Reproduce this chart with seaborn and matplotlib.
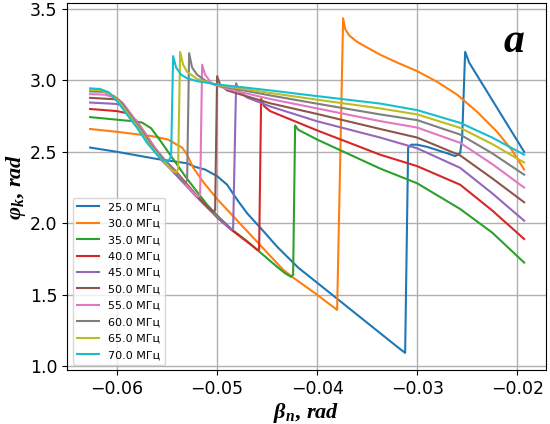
import pandas as pd
import seaborn as sns
import matplotlib
matplotlib.use('Agg')
import matplotlib.pyplot as plt

# frequencies and colours (matplotlib tab10 order)
freqs = [25.0, 30.0, 35.0, 40.0, 45.0, 50.0, 55.0, 60.0, 65.0, 70.0]
colors = sns.color_palette('tab10', 10)

# curves: beta_n (x) and phi_k (y)
x25 = [-0.0627, -0.0600, -0.0560, -0.0530, -0.0522, -0.0512, -0.0500, -0.0490, -0.0480, -0.0470,
       -0.0455, -0.0440, -0.0419, -0.0400, -0.0350, -0.0325, -0.0316, -0.0312, -0.0309, -0.0306,
       -0.0300, -0.0290, -0.0270, -0.0262, -0.0257, -0.0255, -0.0252, -0.0248, -0.0193]
y25 = [2.530, 2.500, 2.450, 2.420, 2.395, 2.376, 2.330, 2.270, 2.165, 2.070,
       1.955, 1.836, 1.690, 1.584, 1.304, 1.164, 1.114, 1.093, 2.530, 2.550,
       2.550, 2.535, 2.490, 2.470, 2.490, 2.600, 3.200, 3.125, 2.500]

x30 = [-0.0627, -0.0600, -0.0565, -0.0549, -0.0544, -0.0535, -0.0530, -0.0524, -0.0514, -0.0500,
       -0.0434, -0.0424, -0.0400, -0.0385, -0.0380, -0.0374, -0.0372, -0.0368, -0.0360, -0.0350,
       -0.0337, -0.0320, -0.0300, -0.0280, -0.0260, -0.0240, -0.0220, -0.0205, -0.0193]
y30 = [2.660, 2.640, 2.610, 2.586, 2.565, 2.530, 2.480, 2.390, 2.290, 2.170,
       1.675, 1.620, 1.500, 1.420, 1.394, 3.435, 3.360, 3.315, 3.270, 3.230,
       3.180, 3.125, 3.065, 2.990, 2.900, 2.780, 2.640, 2.510, 2.376]

x35 = [-0.0627, -0.0600, -0.0585, -0.0575, -0.0566, -0.0558, -0.0550, -0.0542, -0.0531, -0.0520,
       -0.0510, -0.0500, -0.0485, -0.0470, -0.0460, -0.0450, -0.0440, -0.0432, -0.0426, -0.0424,
       -0.0422, -0.0419, -0.0400, -0.0337, -0.0300, -0.0257, -0.0225, -0.0193]
y35 = [2.743, 2.725, 2.715, 2.705, 2.665, 2.590, 2.510, 2.430, 2.320, 2.220,
       2.130, 2.055, 1.955, 1.875, 1.815, 1.755, 1.695, 1.650, 1.625, 1.640,
       2.685, 2.655, 2.586, 2.383, 2.280, 2.100, 1.935, 1.725]

x40 = [-0.0627, -0.0600, -0.0590, -0.0581, -0.0572, -0.0562, -0.0552, -0.0542, -0.0531, -0.0520,
       -0.0500, -0.0485, -0.0470, -0.0459, -0.0458, -0.0456, -0.0453, -0.0447, -0.0400, -0.0337,
       -0.0300, -0.0257, -0.0225, -0.0193]
y40 = [2.800, 2.785, 2.770, 2.720, 2.630, 2.525, 2.440, 2.370, 2.280, 2.190,
       2.040, 1.950, 1.870, 1.810, 1.815, 2.870, 2.820, 2.785, 2.650, 2.480,
       2.400, 2.270, 2.090, 1.890]

x45 = [-0.0627, -0.0600, -0.0596, -0.0586, -0.0576, -0.0566, -0.0556, -0.0546, -0.0534, -0.0522,
       -0.0510, -0.0500, -0.0486, -0.0484, -0.0481, -0.0478, -0.0470, -0.0447, -0.0400, -0.0337,
       -0.0300, -0.0257, -0.0225, -0.0193]
y45 = [2.845, 2.835, 2.825, 2.735, 2.640, 2.535, 2.445, 2.375, 2.285, 2.195,
       2.110, 2.045, 1.955, 1.960, 2.980, 2.920, 2.880, 2.818, 2.714, 2.600,
       2.525, 2.388, 2.210, 2.018]

x50 = [-0.0627, -0.0602, -0.0595, -0.0585, -0.0575, -0.0565, -0.0555, -0.0545, -0.0533, -0.0522,
       -0.0512, -0.0504, -0.0502, -0.0500, -0.0497, -0.0490, -0.0447, -0.0400, -0.0337, -0.0300,
       -0.0257, -0.0225, -0.0193]
y50 = [2.878, 2.868, 2.830, 2.740, 2.645, 2.540, 2.450, 2.380, 2.290, 2.205,
       2.130, 2.080, 2.090, 3.030, 2.970, 2.930, 2.840, 2.765, 2.660, 2.600,
       2.475, 2.315, 2.147]

x55 = [-0.0627, -0.0612, -0.0600, -0.0594, -0.0584, -0.0574, -0.0564, -0.0554, -0.0545, -0.0533,
       -0.0522, -0.0519, -0.0517, -0.0515, -0.0512, -0.0505, -0.0490, -0.0447, -0.0400, -0.0337,
       -0.0300, -0.0257, -0.0225, -0.0193]
y55 = [2.904, 2.900, 2.875, 2.840, 2.745, 2.650, 2.545, 2.455, 2.390, 2.285,
       2.200, 2.185, 2.200, 3.110, 3.040, 2.975, 2.940, 2.870, 2.804, 2.715,
       2.670, 2.563, 2.415, 2.250]

x60 = [-0.0627, -0.0613, -0.0603, -0.0596, -0.0586, -0.0576, -0.0566, -0.0556, -0.0545, -0.0537,
       -0.0532, -0.0530, -0.0528, -0.0525, -0.0520, -0.0510, -0.0500, -0.0447, -0.0400, -0.0337,
       -0.0300, -0.0257, -0.0225, -0.0193]
y60 = [2.923, 2.920, 2.890, 2.845, 2.750, 2.655, 2.550, 2.465, 2.385, 2.315,
       2.280, 2.300, 3.190, 3.090, 3.040, 2.990, 2.965, 2.895, 2.837, 2.762,
       2.722, 2.621, 2.490, 2.340]

x65 = [-0.0627, -0.0615, -0.0605, -0.0598, -0.0588, -0.0578, -0.0568, -0.0558, -0.0549, -0.0545,
       -0.0541, -0.0539, -0.0537, -0.0534, -0.0530, -0.0520, -0.0500, -0.0447, -0.0400, -0.0337,
       -0.0300, -0.0257, -0.0225, -0.0193]
y65 = [2.935, 2.930, 2.895, 2.850, 2.755, 2.660, 2.555, 2.470, 2.400, 2.370,
       2.355, 2.380, 3.200, 3.110, 3.060, 3.010, 2.968, 2.912, 2.865, 2.804,
       2.762, 2.668, 2.555, 2.425]

x70 = [-0.0627, -0.0617, -0.0608, -0.0600, -0.0590, -0.0580, -0.0570, -0.0560, -0.0554, -0.0549,
       -0.0546, -0.0544, -0.0541, -0.0536, -0.0530, -0.0520, -0.0500, -0.0447, -0.0400, -0.0337,
       -0.0300, -0.0257, -0.0225, -0.0193]
y70 = [2.944, 2.940, 2.915, 2.855, 2.760, 2.668, 2.563, 2.480, 2.440, 2.430,
       2.470, 3.170, 3.090, 3.040, 3.015, 2.995, 2.972, 2.930, 2.890, 2.838,
       2.792, 2.703, 2.600, 2.480]

curves = [(x25, y25), (x30, y30), (x35, y35), (x40, y40), (x45, y45),
          (x50, y50), (x55, y55), (x60, y60), (x65, y65), (x70, y70)]

# fonts for the math labels (bold italic serif)
plt.rcParams['mathtext.fontset'] = 'custom'
plt.rcParams['mathtext.it'] = 'Liberation Serif:bold:italic'
plt.rcParams['mathtext.rm'] = 'Liberation Serif:bold'
plt.rcParams['mathtext.bf'] = 'Liberation Serif:bold'

fig, ax = plt.subplots(figsize=(5.5, 4.24), dpi=100)
fig.subplots_adjust(left=0.122, right=0.993, bottom=0.127, top=0.993)

for f, (xs, ys), c in zip(freqs, curves, colors):
    sns.lineplot(x=xs, y=ys, sort=False, estimator=None, color=c, linewidth=1.5,
                 label=f'{f:.1f} МГц', ax=ax)

ax.set_xlim(-0.065, -0.0171)
ax.set_ylim(0.972, 3.542)
ax.set_xticks([-0.06, -0.05, -0.04, -0.03, -0.02])
ax.set_yticks([1.0, 1.5, 2.0, 2.5, 3.0, 3.5])
ax.tick_params(labelsize=12.5)
ax.grid(True, color='#b0b0b0', linewidth=1.0)

ax.set_xlabel(r'$\beta_n,\,rad$', fontsize=16, labelpad=2)
ax.set_ylabel(r'$\varphi_k,\,rad$', fontsize=16, labelpad=1)

ax.text(0.933, 0.866, 'a', transform=ax.transAxes, ha='center', va='baseline',
        fontsize=30, fontweight='bold', fontstyle='italic', family='Liberation Serif')

ax.legend(loc='lower left', fontsize=8, framealpha=0.8, labelspacing=0.58)

plt.savefig('out.png', dpi=100)
